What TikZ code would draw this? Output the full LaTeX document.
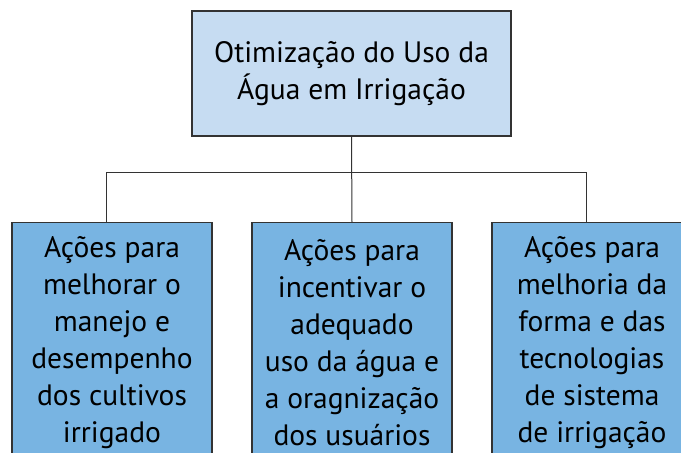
\documentclass[tikz,border=0pt]{standalone}
\usepackage{fontspec}
\setmainfont{PT Sans}
\usetikzlibrary{positioning}
\definecolor{topblue}{RGB}{198,220,242}
\definecolor{boxblue}{RGB}{120,180,226}
\tikzset{
  topbox/.style={draw=black!80, line width=1.2pt, fill=topblue, minimum width=319pt, minimum height=125pt, align=center, inner sep=0pt, font=\fontsize{29.5pt}{37pt}\selectfont},
  actbox/.style={draw=black!80, line width=1.2pt, fill=boxblue, minimum width=200pt, minimum height=240pt, align=center, inner sep=0pt, anchor=north, font=\fontsize{29.5pt}{37pt}\selectfont},
  link/.style={draw=black!80, line width=1pt}
}
\begin{document}
\begin{tikzpicture}[x=1pt,y=1pt]
\useasboundingbox (0,0) rectangle (681,453);
\clip (0,0) rectangle (681,453);
\node[topbox] (otim) at (351.5,379.5) {Otimização do Uso da\\Água em Irrigação};
\node[actbox] (manejo) at (112,231) {Ações para\\melhorar o\\manejo e\\desempenho\\dos cultivos\\irrigado};
\node[actbox] (uso) at (352,231) {Ações para\\incentivar o\\adequado\\uso da água e\\a oragnização\\dos usuários};
\node[actbox] (tecno) at (592,231) {Ações para\\melhoria da\\forma e das\\tecnologias\\de sistema\\de irrigação};
% connectors
\coordinate (split) at (otim.south |- 0,280);
\draw[link] (otim.south) -- (uso.north);
\draw[link] (split) -| ([xshift=-6pt]manejo.north);
\draw[link] (split) -| ([xshift=-6pt]tecno.north);
\end{tikzpicture}
\end{document}
